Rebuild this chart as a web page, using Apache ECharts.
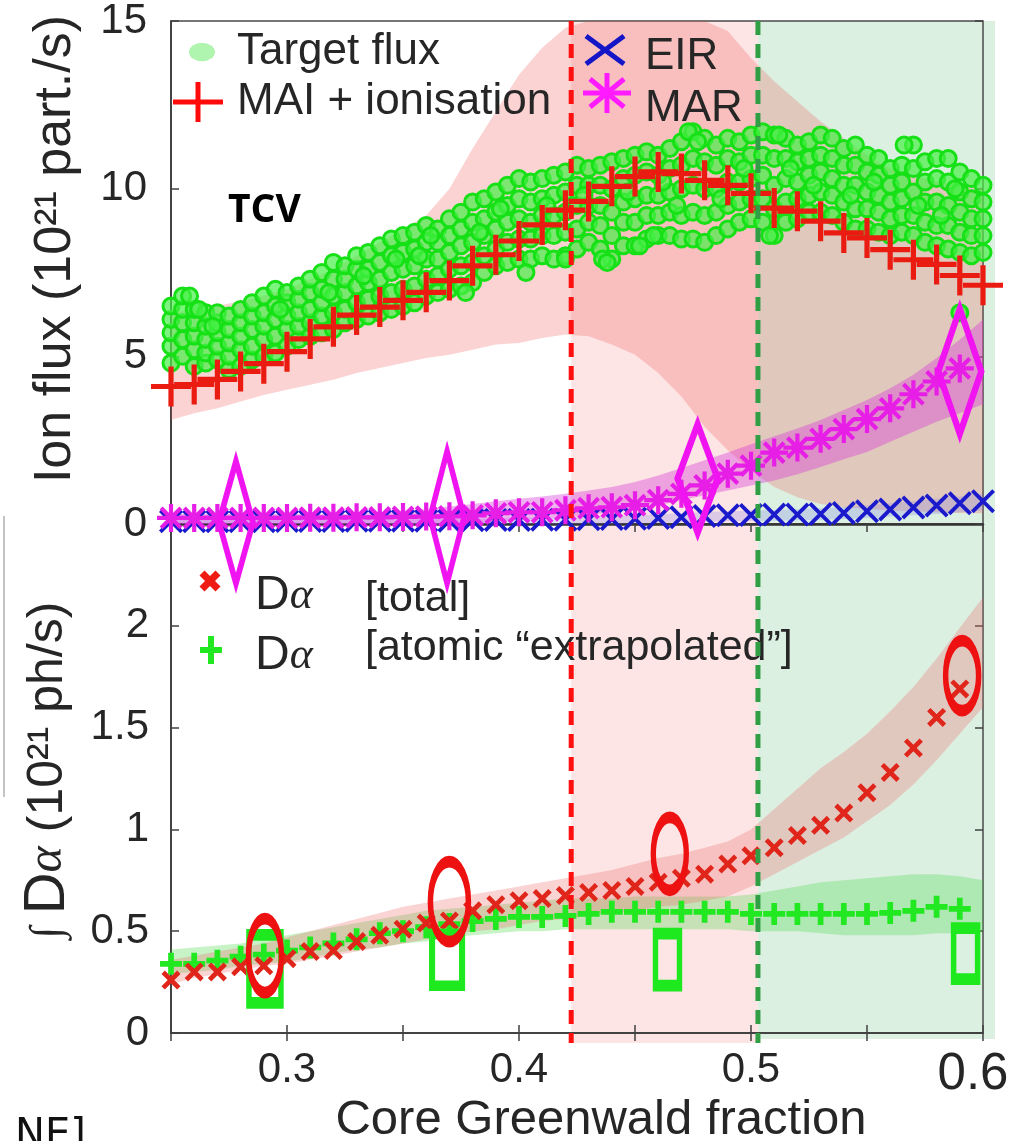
<!DOCTYPE html>
<html>
<head>
<meta charset="utf-8">
<script src="https://cdn.jsdelivr.net/npm/echarts@6.0.0/dist/echarts.min.js"></script>
<style>
  html, body { margin: 0; padding: 0; background: #fff; }
  #main { width: 1012px; height: 1141px; }
</style>
</head>
<body>
<div id="main"></div>
<script>
// core Greenwald fraction grid of the profiles
var fgw = [0.25, 0.26, 0.27, 0.28, 0.29, 0.30, 0.31, 0.32, 0.33, 0.34, 0.35, 0.36,
  0.37, 0.38, 0.39, 0.40, 0.41, 0.42, 0.43, 0.44, 0.45, 0.46, 0.47, 0.48,
  0.49, 0.50, 0.51, 0.52, 0.53, 0.54, 0.55, 0.56, 0.57, 0.58, 0.59, 0.60];

// top panel: ion sources / sinks (1e21 part./s)
var maiIon = [4.10, 4.16, 4.31, 4.55, 4.78, 5.14, 5.52, 5.88, 6.23, 6.47, 6.67, 6.91,
  7.26, 7.70, 8.03, 8.44, 8.92, 9.36, 9.62, 10.07, 10.36, 10.50, 10.45, 10.25,
  10.10, 9.86, 9.42, 9.33, 9.03, 8.68, 8.53, 8.18, 7.88, 7.74, 7.41, 7.12];
var maiLow = [3.1, 3.3, 3.45, 3.65, 3.85, 4.0, 4.15, 4.3, 4.5, 4.65, 4.8, 4.95,
  5.05, 5.2, 5.35, 5.4, 5.55, 5.65, 5.6, 5.35, 5.05, 4.5, 3.8, 2.9,
  2.2, 1.6, 1.1, 0.8, 0.6, 0.5, 0.45, 0.4, 0.38, 0.35, 0.33, 0.32];
var maiHigh = [6.3, 6.4, 6.5, 6.65, 6.8, 7.0, 7.3, 7.6, 8.0, 8.4, 8.8, 9.2,
  10.0, 11.2, 12.3, 13.4, 14.2, 14.8, 15, 15, 15, 15, 15, 15,
  14.7, 13.9, 13.2, 12.6, 12.0, 11.5, 11.0, 10.6, 10.4, 10.2, 10.1, 10.0];

var eir = [0.08, 0.08, 0.08, 0.08, 0.08, 0.09, 0.09, 0.09, 0.10, 0.10, 0.10, 0.10,
  0.10, 0.11, 0.12, 0.12, 0.13, 0.13, 0.14, 0.15, 0.16, 0.18, 0.20, 0.24,
  0.26, 0.27, 0.28, 0.28, 0.30, 0.33, 0.38, 0.43, 0.49, 0.55, 0.62, 0.68];
var eirLow = [0, 0, 0, 0, 0, 0, 0, 0, 0, 0, 0, 0,
  0, 0, 0, 0, 0, 0, 0, 0, 0.02, 0.03, 0.05, 0.07,
  0.08, 0.09, 0.1, 0.11, 0.13, 0.15, 0.18, 0.22, 0.26, 0.3, 0.35, 0.4];
var eirHigh = [0.15, 0.15, 0.15, 0.15, 0.15, 0.15, 0.15, 0.15, 0.15, 0.15, 0.15, 0.15,
  0.15, 0.15, 0.17, 0.18, 0.19, 0.2, 0.22, 0.24, 0.26, 0.29, 0.32, 0.36,
  0.38, 0.4, 0.42, 0.44, 0.47, 0.51, 0.56, 0.62, 0.68, 0.75, 0.82, 0.9];

var mar = [0.18, 0.18, 0.18, 0.18, 0.18, 0.18, 0.19, 0.19, 0.20, 0.20, 0.21, 0.22,
  0.23, 0.26, 0.32, 0.35, 0.35, 0.41, 0.47, 0.50, 0.56, 0.71, 0.90, 1.15,
  1.50, 1.74, 2.13, 2.28, 2.54, 2.83, 3.13, 3.45, 3.87, 4.25, 4.64, null];
var marLow = [0, 0, 0, 0, 0, 0, 0, 0, 0, 0, 0, 0,
  0, 0, 0.08, 0.12, 0.16, 0.2, 0.27, 0.36, 0.45, 0.56, 0.7, 0.86,
  1.0, 1.15, 1.3, 1.48, 1.7, 1.93, 2.15, 2.45, 2.75, 3.05, 3.3, 3.57];
var marHigh = [0.3, 0.3, 0.3, 0.3, 0.3, 0.3, 0.3, 0.3, 0.3, 0.35, 0.4, 0.45,
  0.52, 0.6, 0.68, 0.75, 0.82, 0.9, 1.0, 1.1, 1.25, 1.45, 1.67, 1.9,
  2.13, 2.38, 2.62, 2.85, 3.1, 3.4, 3.7, 4.05, 4.45, 4.95, 5.5, 6.1];

// target ion flux, read column by column from the cloud
var targetFluxCols = [
  [0.250, [4.8, 5.3, 5.7, 6.1, 6.5]], [0.255, [5.0, 5.5, 6.0, 6.4, 6.8]],
  [0.260, [4.7, 5.2, 5.6, 6.0, 6.4]], [0.265, [4.8, 5.1, 5.5, 5.9, 6.3]],
  [0.270, [4.9, 5.3, 5.7, 6.0, 6.3]], [0.275, [4.6, 5.0, 5.4, 5.8, 6.2]],
  [0.280, [4.7, 5.2, 5.6, 6.0, 6.4]], [0.285, [4.9, 5.3, 5.8, 6.2, 6.6]],
  [0.290, [5.0, 5.5, 5.9, 6.3, 6.8]], [0.295, [5.1, 5.6, 6.1, 6.5, 7.0]],
  [0.300, [5.3, 5.8, 6.2, 6.6, 6.9]], [0.305, [5.5, 5.9, 6.3, 6.7, 7.1]],
  [0.310, [5.6, 6.0, 6.4, 6.9, 7.3]], [0.315, [5.7, 6.2, 6.6, 7.0, 7.5]],
  [0.320, [5.8, 6.3, 6.8, 7.3, 7.8]], [0.325, [6.0, 6.4, 6.9, 7.3, 7.7]],
  [0.330, [6.1, 6.6, 7.1, 7.6, 8.0]], [0.335, [6.2, 6.7, 7.2, 7.6, 8.1]],
  [0.340, [6.3, 6.8, 7.3, 7.8, 8.3]], [0.345, [6.4, 6.9, 7.5, 8.0, 8.5]],
  [0.350, [6.5, 7.0, 7.6, 8.1, 8.6]], [0.355, [6.6, 7.1, 7.7, 8.2, 8.7]],
  [0.360, [6.8, 7.3, 7.9, 8.4, 8.9]], [0.365, [6.9, 7.4, 7.9, 8.4, 8.8]],
  [0.370, [7.0, 7.6, 8.1, 8.6, 9.1]], [0.375, [7.1, 7.7, 8.3, 8.8, 9.3]],
  [0.380, [7.2, 7.8, 8.4, 9.0, 9.6]], [0.385, [7.5, 8.0, 8.6, 9.1, 9.7]],
  [0.390, [7.7, 8.2, 8.8, 9.3, 9.9]], [0.395, [7.8, 8.4, 9.0, 9.5, 10.1]],
  [0.400, [7.9, 8.5, 9.1, 9.7, 10.3]], [0.405, [7.9, 8.5, 9.0, 9.6, 10.2]],
  [0.410, [8.0, 8.6, 9.2, 9.7, 10.3]], [0.415, [7.9, 8.6, 9.2, 9.8, 10.4]],
  [0.420, [8.0, 8.7, 9.3, 9.9, 10.5]], [0.425, [8.2, 8.8, 9.5, 10.1, 10.7]],
  [0.430, [8.4, 9.0, 9.5, 10.1, 10.6]], [0.435, [8.2, 8.9, 9.5, 10.1, 10.7]],
  [0.440, [7.9, 8.6, 9.3, 10.0, 10.8]], [0.445, [8.3, 9.0, 9.6, 10.3, 10.9]],
  [0.450, [8.3, 9.0, 9.7, 10.4, 11.0]], [0.455, [8.5, 9.2, 9.8, 10.5, 11.1]],
  [0.460, [8.6, 9.2, 9.8, 10.4, 11.0]], [0.465, [8.6, 9.3, 9.9, 10.6, 11.2]],
  [0.470, [8.5, 9.2, 10.0, 10.7, 11.4]], [0.475, [8.5, 9.3, 10.1, 10.9, 11.7]],
  [0.480, [8.4, 9.2, 10.0, 10.8, 11.5]], [0.485, [8.6, 9.3, 10.0, 10.7, 11.3]],
  [0.490, [8.8, 9.5, 10.2, 10.9, 11.5]], [0.495, [9.0, 9.6, 10.2, 10.8, 11.4]],
  [0.500, [9.1, 9.7, 10.3, 11.0, 11.6]], [0.505, [9.0, 9.7, 10.4, 11.0, 11.7]],
  [0.510, [8.6, 9.4, 10.1, 10.9, 11.6]], [0.515, [9.0, 9.6, 10.3, 10.9, 11.5]],
  [0.520, [9.1, 9.7, 10.2, 10.8, 11.3]], [0.525, [9.3, 9.8, 10.4, 10.9, 11.4]],
  [0.530, [9.3, 9.9, 10.5, 11.0, 11.6]], [0.535, [9.2, 9.8, 10.3, 10.9, 11.5]],
  [0.540, [9.0, 9.6, 10.1, 10.7, 11.2]], [0.545, [8.8, 9.4, 10.1, 10.7, 11.3]],
  [0.550, [8.8, 9.4, 9.9, 10.5, 11.0]], [0.555, [8.7, 9.3, 9.8, 10.4, 10.9]],
  [0.560, [8.6, 9.1, 9.6, 10.1, 10.6]], [0.565, [8.7, 9.2, 9.7, 10.2, 10.7]],
  [0.570, [8.6, 9.2, 9.9, 10.6, 11.3]], [0.575, [8.4, 9.0, 9.6, 10.2, 10.8]],
  [0.580, [8.3, 8.9, 9.6, 10.3, 10.9]], [0.585, [8.2, 8.9, 9.5, 10.2, 10.9]],
  [0.590, [8.1, 8.7, 9.3, 9.9, 10.5]], [0.595, [8.0, 8.6, 9.1, 9.7, 10.3]],
  [0.600, [8.1, 8.6, 9.1, 9.6, 10.1]]
];
var targetFluxExtra = [[0.258, 6.8], [0.262, 6.4], [0.377, 6.9], [0.403, 7.5], [0.420, 7.9],
  [0.436, 7.9], [0.438, 7.8], [0.452, 8.3], [0.458, 8.6], [0.473, 11.7], [0.477, 11.4],
  [0.508, 8.6], [0.512, 11.6], [0.566, 11.3], [0.590, 6.3],
  [0.318, 6.9], [0.347, 7.9], [0.362, 8.6], [0.392, 9.4], [0.428, 9.8], [0.462, 10.2],
  [0.487, 9.7], [0.517, 10.6], [0.543, 9.8], [0.572, 9.5], [0.588, 10.0],
  [0.268, 5.9], [0.297, 6.4], [0.333, 7.4], [0.357, 8.0], [0.383, 8.7], [0.412, 9.5],
  [0.447, 9.9], [0.468, 9.5], [0.497, 10.6], [0.527, 10.1], [0.553, 10.2], [0.582, 9.2]];

// bottom panel: integrated D-alpha (1e21 ph/s)
var dalphaTotal = [0.26, 0.30, 0.30, 0.325, 0.33, 0.365, 0.40, 0.405, 0.45, 0.48, 0.51, 0.54,
  0.55, 0.60, 0.63, 0.65, 0.66, 0.675, 0.69, 0.70, 0.72, 0.74, 0.76, 0.78,
  0.83, 0.87, 0.91, 0.97, 1.02, 1.08, 1.18, 1.28, 1.40, 1.55, 1.69, null];
var dalphaTotalLow = [0.24, 0.27, 0.29, 0.31, 0.33, 0.34, 0.36, 0.38, 0.40, 0.42, 0.44, 0.46,
  0.48, 0.50, 0.51, 0.53, 0.55, 0.56, 0.58, 0.59, 0.60, 0.62, 0.63, 0.65,
  0.67, 0.72, 0.78, 0.84, 0.90, 0.96, 1.04, 1.12, 1.22, 1.34, 1.47, 1.60];
var dalphaTotalHigh = [0.36, 0.38, 0.40, 0.42, 0.44, 0.47, 0.50, 0.53, 0.56, 0.59, 0.62, 0.64,
  0.66, 0.68, 0.70, 0.72, 0.74, 0.76, 0.78, 0.80, 0.83, 0.86, 0.88, 0.91,
  0.94, 1.00, 1.10, 1.20, 1.30, 1.38, 1.47, 1.58, 1.70, 1.84, 1.99, 2.14];
var dalphaAtomic = [0.34, 0.34, 0.355, 0.375, 0.385, 0.405, 0.42, 0.44, 0.46, 0.49, 0.50, 0.52,
  0.535, 0.55, 0.56, 0.57, 0.57, 0.575, 0.585, 0.595, 0.595, 0.595, 0.595, 0.595,
  0.595, 0.585, 0.585, 0.585, 0.585, 0.585, 0.585, 0.59, 0.60, 0.62, 0.61, null];
var dalphaAtomicLow = [0.29, 0.30, 0.31, 0.33, 0.34, 0.35, 0.37, 0.39, 0.41, 0.42, 0.44, 0.45,
  0.47, 0.48, 0.49, 0.50, 0.50, 0.51, 0.51, 0.51, 0.51, 0.51, 0.51, 0.51,
  0.51, 0.50, 0.50, 0.50, 0.49, 0.48, 0.48, 0.48, 0.48, 0.49, 0.49, 0.50];
var dalphaAtomicHigh = [0.41, 0.42, 0.43, 0.44, 0.46, 0.48, 0.50, 0.52, 0.54, 0.56, 0.58, 0.60,
  0.61, 0.62, 0.63, 0.64, 0.65, 0.66, 0.66, 0.66, 0.67, 0.67, 0.67, 0.67,
  0.67, 0.68, 0.70, 0.72, 0.74, 0.75, 0.76, 0.77, 0.78, 0.78, 0.77, 0.75];

// discrete error markers
var marErrX = [0.278, 0.369, 0.477, 0.590];
var marErrY = [0.05, 0.2, 1.36, 4.55];
var totalErrX = [0.2905, 0.370, 0.465, 0.591];
var totalErrY = [0.38, 0.645, 0.88, 1.755];
var atomicErrX = [0.2905, 0.369, 0.464, 0.5925];
var atomicErrY = [0.315, 0.36, 0.36, 0.39];

// detachment onset / roll-over
var regionEdges = [0.4225, 0.503];

var FONT = 'Liberation Sans';
var TXT = '#262626';

function pairs(xs, ys) {
  var out = [];
  for (var i = 0; i < xs.length; i++) {
    if (ys[i] != null) out.push([xs[i], ys[i]]);
  }
  return out;
}

var targetFlux = [];
targetFluxCols.forEach(function (c) {
  c[1].forEach(function (y) { targetFlux.push([c[0], y]); });
});
targetFlux = targetFlux.concat(targetFluxExtra);

// filled marker shapes in a 20x20 box
function plusPath(t) {
  return 'path://M' + (-t) + ',-10 L' + t + ',-10 L' + t + ',10 L' + (-t) + ',10 Z ' +
    'M-10,' + (-t) + ' L10,' + (-t) + ' L10,' + t + ' L-10,' + t + ' Z';
}
function diagPath(d, t) {
  var n = t / Math.SQRT2;
  function p(x, y) { return x.toFixed(3) + ',' + y.toFixed(3); }
  return 'M' + p(-d + n, -d - n) + ' L' + p(d + n, d - n) + ' L' + p(d - n, d + n) + ' L' + p(-d - n, -d + n) + ' Z ' +
    'M' + p(d + n, -d + n) + ' L' + p(-d + n, d + n) + ' L' + p(-d - n, d - n) + ' L' + p(d - n, -d - n) + ' Z';
}
function crossPath(t) { return 'path://' + diagPath(10, t); }
function starPath(t) { return plusPath(t) + ' ' + diagPath(7.07, t); }
var ellipsePath = 'path://M0,-10 C5.523,-10 10,-5.523 10,0 C10,5.523 5.523,10 0,10 ' +
  'C-5.523,10 -10,5.523 -10,0 C-10,-5.523 -5.523,-10 0,-10 Z';

function band(xs, lo, hi, color, xi, yi, z) {
  return {
    type: 'custom', silent: true, xAxisIndex: xi, yAxisIndex: yi, z: z,
    data: xs.map(function (x, i) { return [x, lo[i], hi[i]]; }),
    encode: { x: 0, y: [1, 2] },
    renderItem: function (params, api) {
      if (params.dataIndex !== 0) return null;
      var pts = [];
      for (var i = 0; i < xs.length; i++) pts.push(api.coord([xs[i], hi[i]]));
      for (var j = xs.length - 1; j >= 0; j--) pts.push(api.coord([xs[j], lo[j]]));
      return { type: 'polygon', shape: { points: pts }, style: { fill: color } };
    }
  };
}

function scatter(data, xi, yi, symbol, size, color, z, style) {
  var st = { color: color, opacity: 1 };
  for (var k in style) st[k] = style[k];
  return {
    type: 'scatter', silent: true, xAxisIndex: xi, yAxisIndex: yi, z: z,
    data: data, symbol: symbol, symbolSize: size, itemStyle: st
  };
}
var hollow = 'rgba(0,0,0,0)';

var tickStyle = { show: true, inside: true, length: 8, lineStyle: { color: '#404040', width: 1.5 } };
var noLabel = { show: false };

var xBase = { type: 'value', min: 0.25, max: 0.6, interval: 0.05, splitLine: { show: false } };
function xAxis(grid, pos, opts) {
  var a = { gridIndex: grid, position: pos };
  for (var k in xBase) a[k] = xBase[k];
  for (var m in opts) a[m] = opts[m];
  return a;
}

var option = {
  animation: false,
  backgroundColor: '#fff',
  textStyle: { fontFamily: FONT },
  grid: [
    { left: 171, top: 16, width: 812, height: 508, show: true, borderColor: '#4a4a4a', borderWidth: 1.5, backgroundColor: 'transparent' },
    { left: 171, top: 524, width: 812, height: 509, show: true, borderColor: '#4a4a4a', borderWidth: 1.5, backgroundColor: 'transparent' }
  ],
  xAxis: [
    xAxis(0, 'bottom', { axisLine: { show: true, lineStyle: { color: '#333', width: 2.5 } }, axisTick: { show: false }, axisLabel: noLabel }),
    xAxis(0, 'top', { axisLine: { show: false }, axisTick: tickStyle, axisLabel: noLabel }),
    xAxis(1, 'bottom', {
      axisLine: { show: true, lineStyle: { color: '#333', width: 1.5 } },
      axisTick: tickStyle,
      axisLabel: {
        show: true, margin: 16, color: TXT, fontSize: 42, fontFamily: FONT,
        formatter: function (v) {
          var r = Math.round(v * 10);
          if (Math.abs(v * 10 - r) > 1e-6) return '';
          if (r === 6) return '{big|0.6}';
          return (r / 10).toFixed(1);
        },
        rich: { big: { fontSize: 51, fontFamily: FONT, color: TXT, padding: [0, 20, 0, 0] } }
      }
    }),
    xAxis(1, 'top', { axisLine: { show: false }, axisTick: tickStyle, axisLabel: noLabel })
  ],
  yAxis: [
    { type: 'value', gridIndex: 0, position: 'left', min: 0, max: 15, interval: 5, splitLine: { show: false },
      axisLine: { show: true, lineStyle: { color: '#333', width: 1.5 } }, axisTick: tickStyle,
      axisLabel: { show: true, margin: 24, color: TXT, fontSize: 42, fontFamily: FONT } },
    { type: 'value', gridIndex: 0, position: 'right', min: 0, max: 15, interval: 5, splitLine: { show: false },
      axisLine: { show: false }, axisTick: tickStyle, axisLabel: noLabel },
    { type: 'value', gridIndex: 1, position: 'left', min: 0, max: 2.5, interval: 0.5, splitLine: { show: false },
      axisLine: { show: true, lineStyle: { color: '#333', width: 1.5 } }, axisTick: tickStyle,
      axisLabel: { show: true, margin: 22, color: TXT, fontSize: 42, fontFamily: FONT,
        formatter: function (v) { return v >= 2.5 ? '' : String(v); } } },
    { type: 'value', gridIndex: 1, position: 'right', min: 0, max: 2.5, interval: 0.5, splitLine: { show: false },
      axisLine: { show: false }, axisTick: tickStyle, axisLabel: noLabel }
  ],
  series: [
    // top panel
    band(fgw, maiLow, maiHigh, 'rgba(240,80,80,0.25)', 0, 0, 1),
    band(fgw, eirLow, eirHigh, 'rgba(120,120,230,0.25)', 0, 0, 1),
    scatter(targetFlux, 0, 0, 'circle', 16, 'rgba(70,240,70,0.7)', 2,
      { borderColor: '#16e016', borderWidth: 3 }),
    scatter(pairs(fgw, maiIon), 0, 0, plusPath(1.3), 40, '#ea1c12', 3),
    band(fgw, marLow, marHigh, 'rgba(215,60,215,0.4)', 0, 0, 4),
    scatter(pairs(fgw, eir), 0, 0, crossPath(1.8), 24, '#1a1acc', 5),
    scatter(pairs(fgw, mar), 0, 0, starPath(1.5), 28, '#e61ee6', 6),
    scatter(pairs(marErrX, marErrY), 0, 0, 'diamond', function (v, p) {
      return [[34, 122], [34, 132], [40, 108], [43, 125]][p.dataIndex];
    }, hollow, 7, { borderColor: '#f014f0', borderWidth: 8 }),
    // bottom panel
    band(fgw, dalphaAtomicLow, dalphaAtomicHigh, 'rgba(70,215,70,0.3)', 2, 2, 1),
    band(fgw, dalphaTotalLow, dalphaTotalHigh, 'rgba(240,110,110,0.3)', 2, 2, 1),
    scatter(pairs(fgw, dalphaAtomic), 2, 2, plusPath(2.6), 22, '#22e822', 3),
    scatter(pairs(fgw, dalphaTotal), 2, 2, crossPath(3.0), 19, '#e0251b', 4),
    scatter(pairs(atomicErrX, atomicErrY), 2, 2, 'rect', function (v, p) {
      return [[32, 68], [30, 52], [24, 52], [24, 51]][p.dataIndex];
    }, hollow, 5, { borderColor: '#1ee81e', borderWidth: 8 }),
    scatter(pairs(totalErrX, totalErrY), 2, 2, ellipsePath, function (v, p) {
      return [[33, 74], [38, 80], [33, 73], [33, 70]][p.dataIndex];
    }, hollow, 6, { borderColor: '#ee1111', borderWidth: 8 })
  ]
};

var chart = echarts.init(document.getElementById('main'));
chart.setOption(option);

// regions and annotations placed through the axis scales
var xOn = chart.convertToPixel({ xAxisIndex: 2 }, regionEdges[0]);
var xRoll = chart.convertToPixel({ xAxisIndex: 2 }, regionEdges[1]);
var xEnd = chart.convertToPixel({ xAxisIndex: 2 }, 0.6);
var yTop = chart.convertToPixel({ yAxisIndex: 0 }, 15);
var yBot = chart.convertToPixel({ yAxisIndex: 2 }, 0);

function seg(x1, y1, x2, y2, color, lw) {
  return { type: 'line', z: 60, silent: true, shape: { x1: x1, y1: y1, x2: x2, y2: y2 },
    style: { stroke: color, lineWidth: lw } };
}
function txt(x, y, text, size, extra) {
  var st = { text: text, fontSize: size, fontFamily: FONT, fill: TXT, align: 'left', verticalAlign: 'middle' };
  for (var k in extra) st[k] = extra[k];
  return { type: 'text', z: 60, silent: true, x: x, y: y, style: st };
}
var dAlphaRich = {
  d: { fontSize: 48, fontFamily: FONT, fill: TXT },
  a: { fontSize: 44, fontFamily: 'Liberation Serif', fontStyle: 'italic', fill: TXT }
};

var g = [
  { type: 'rect', z: -10, silent: true, shape: { x: xOn, y: yTop, width: xRoll - xOn, height: yBot - yTop + 10 },
    style: { fill: '#fde5e5' } },
  { type: 'rect', z: -10, silent: true, shape: { x: xRoll, y: yTop, width: xEnd - xRoll + 12, height: yBot - yTop + 6 },
    style: { fill: '#dcf0e2' } },
  { type: 'line', z: 70, silent: true, shape: { x1: xOn, y1: yTop, x2: xOn, y2: yBot + 10 },
    style: { stroke: '#ff1010', lineWidth: 5, lineDash: [14, 9] } },
  { type: 'line', z: 70, silent: true, shape: { x1: xRoll, y1: yTop, x2: xRoll, y2: yBot + 10 },
    style: { stroke: '#2f9e45', lineWidth: 5, lineDash: [14, 9] } },

  // top legend
  { type: 'circle', z: 60, silent: true, x: 202, y: 52, scaleY: 0.72, shape: { cx: 0, cy: 0, r: 13 },
    style: { fill: 'rgba(110,235,110,0.55)' } },
  txt(237, 52, 'Target flux', 44),
  seg(173, 102, 223, 102, '#ff0a0a', 5), seg(198, 82, 198, 122, '#ff0a0a', 5),
  txt(237, 102, 'MAI + ionisation', 44),
  seg(586, 36, 624, 64, '#1515c8', 5), seg(586, 64, 624, 36, '#1515c8', 5),
  txt(645, 57, 'EIR', 44),
  seg(583, 93, 631, 93, '#ff1aff', 5), seg(607, 73, 607, 113, '#ff1aff', 5),
  seg(590, 79, 624, 107, '#ff1aff', 5), seg(590, 107, 624, 79, '#ff1aff', 5),
  txt(645, 109, 'MAR', 44),
  txt(228, 211, 'TCV', 39, { fontFamily: 'Open Sans', fontWeight: 'bold', fill: '#000' }),

  // bottom legend
  seg(202, 573, 218, 589, '#ee1c12', 7), seg(202, 589, 218, 573, '#ee1c12', 7),
  txt(255, 596, '{d|D}{a|α}', 46, { rich: dAlphaRich }),
  txt(365, 599, '[total]', 43),
  seg(200, 650, 222, 650, '#22e822', 6), seg(211, 636, 211, 664, '#22e822', 6),
  txt(255, 656, '{d|D}{a|α}', 46, { rich: dAlphaRich }),
  txt(365, 648, '[atomic \u201Cextrapolated\u201D]', 43),

  // axis titles
  { type: 'text', z: 60, silent: true, x: 56, y: 249, rotation: Math.PI / 2,
    style: { text: 'Ion flux (10\u00B2\u00B9 part./s)', fontSize: 52, fontFamily: FONT, fill: TXT,
      align: 'center', verticalAlign: 'middle' } },
  { type: 'text', z: 60, silent: true, x: 48, y: 770, rotation: Math.PI / 2,
    style: { text: '{i|\u222B}{d|D}{a|\u03B1}{t|(10\u00B2\u00B9 ph/s)}', align: 'center', verticalAlign: 'middle',
      rich: {
        i: { fontSize: 44, fontFamily: 'Liberation Serif', fontStyle: 'italic', fill: TXT, padding: [0, 12, 0, 0] },
        d: { fontSize: 58, fontFamily: FONT, fill: TXT },
        a: { fontSize: 50, fontFamily: 'Liberation Serif', fontStyle: 'italic', fill: TXT, padding: [0, 14, 0, 0] },
        t: { fontSize: 50, fontFamily: FONT, fill: TXT }
      } } },
  txt(601, 1120, 'Core Greenwald fraction', 49, { align: 'center' }),

  // stray pieces at the image edges
  seg(4, 516, 4, 797, '#c4c4c4', 2),
  txt(15, 1117, 'NE]', 40, { verticalAlign: 'top', fill: '#111', fontFamily: 'DejaVu Sans' })
];

chart.setOption({ graphic: { elements: g } });
</script>
</body>
</html>
